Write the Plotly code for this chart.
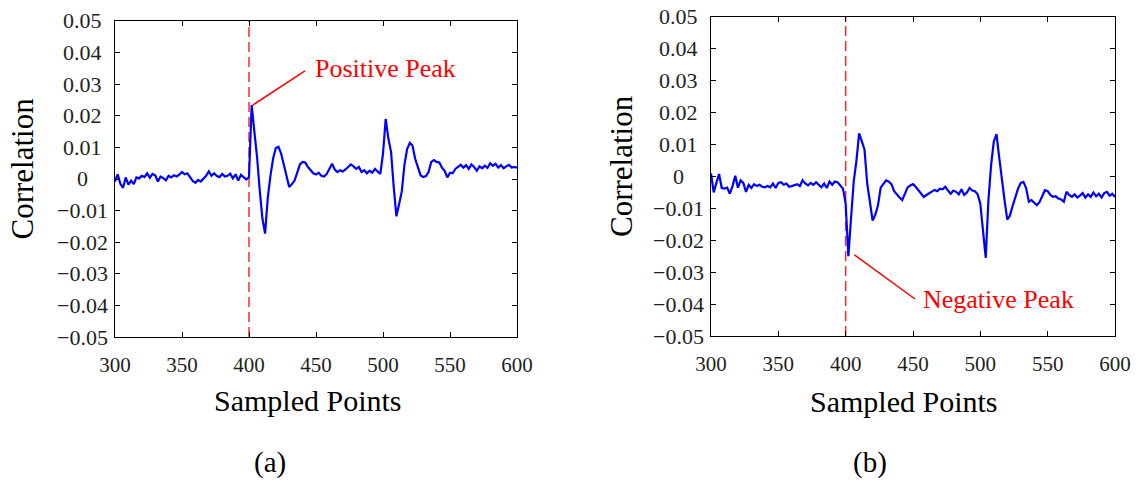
import plotly.graph_objects as go

# Sample positions shared by both correlation traces
sampled_points = list(range(300, 601, 2))

# Correlation of panel (a), in units of 1e-3
corr_a_milli = [
    -0.8, 1.5, -1.5, -2.8, 0.5, -1.8, -0.5, -1.6, 0.5, 0.2,
    1.0, 0.6, 1.8, 0.4, 1.6, 1.2, -0.8, 0.8, 0.3, -0.4,
    1.0, 0.5, 1.2, 0.8, 1.4, 2.2, 1.5, 1.8, 0.6, -0.6,
    -1.2, -0.3, -0.8, 0.2, 1.0, 2.4, 1.0, 1.8, 0.9, 0.6,
    1.6, 0.8, 1.0, 1.7, 0.2, 1.5, -0.5, 1.3, 0.4, -0.2,
    0.6, 23.4, 15.0, 7.0, -3.5, -12.5, -17.3, -6.0, 1.0, 6.5,
    9.8, 10.2, 8.0, 4.2, 0.5, -2.5, -1.6, -0.5, 2.0, 4.6,
    5.4, 5.2, 3.8, 2.6, 1.8, 1.4, 2.0, 1.0, 0.8, 1.6,
    3.2, 4.8, 3.0, 2.2, 2.8, 2.4, 3.0, 3.8, 4.6, 4.0,
    3.2, 3.8, 2.2, 2.8, 1.8, 2.6, 2.0, 3.2, 2.4, 1.6,
    8.0, 19.0, 12.8, 8.6, -2.5, -11.8, -8.0, -4.0, 4.5, 9.5,
    11.4, 10.6, 6.4, 3.4, 1.2, 0.6, 0.9, 2.2, 5.4, 6.0,
    5.4, 5.2, 3.6, 2.6, 0.5, 2.0, 1.8, 3.2, 3.8, 4.5,
    3.6, 4.4, 3.2, 4.6, 3.8, 2.6, 4.0, 3.4, 4.2, 3.5,
    5.0, 4.2, 4.8, 3.6, 4.4, 3.4, 4.0, 4.5, 3.6, 3.8,
    3.6,
]

# Correlation of panel (b), in units of 1e-3
corr_b_milli = [
    1.0, -5.0, -2.0, 0.8, -3.6, -3.8, -3.5, -5.4, -3.0, 0.2,
    -3.5, -1.2, -2.0, -4.8, -2.6, -3.6, -2.4, -3.0, -2.6, -3.2,
    -3.4, -3.0, -3.4, -2.2, -3.6, -2.0, -1.8, -2.6, -2.2, -3.2,
    -3.0, -2.6, -2.4, -3.0, -1.2, -2.2, -2.8, -2.0, -2.6, -1.8,
    -2.6, -3.4, -2.2, -3.6, -1.6, -2.6, -1.6, -1.8, -2.8, -3.8,
    -8.5, -25.0, -13.0, -1.5, 5.0, 13.5, 11.0, 8.4, -2.2, -8.5,
    -13.8, -12.0, -9.0, -3.5, -2.2, -1.2, -1.6, -2.4, -4.6, -5.8,
    -6.6, -7.4, -5.6, -3.4, -2.8, -2.4, -3.2, -4.4, -5.2, -6.4,
    -5.8, -5.2, -4.8, -4.2, -4.6, -3.8, -4.0, -3.2, -4.4, -5.4,
    -4.4, -4.8, -5.6, -4.0, -5.8, -5.0, -3.6, -4.4, -4.6, -5.6,
    -8.5, -16.5, -25.5, -7.5, 3.6, 11.0, 13.3, 6.0, -1.5, -7.5,
    -13.5, -12.2, -9.2, -6.4, -3.8, -2.0, -1.7, -3.6, -7.9, -7.4,
    -8.2, -9.0, -8.0, -6.4, -4.3, -4.6, -5.8, -6.4, -6.2, -6.9,
    -7.2, -7.9, -4.8, -5.8, -6.4, -5.6, -6.6, -6.0, -5.2, -6.6,
    -5.6, -6.4, -5.0, -6.2, -5.4, -6.6, -5.2, -4.8, -6.0, -5.4,
    -6.4,
]

corr_a = [v / 1000 for v in corr_a_milli]
corr_b = [v / 1000 for v in corr_b_milli]

x_ticks = [300, 350, 400, 450, 500, 550, 600]
y_ticks = [-0.05, -0.04, -0.03, -0.02, -0.01, 0, 0.01, 0.02, 0.03, 0.04, 0.05]
y_tick_labels = ["\u22120.05", "\u22120.04", "\u22120.03", "\u22120.02", "\u22120.01", "0",
                 "0.01", "0.02", "0.03", "0.04", "0.05"]
onset = 400

W, H = 1141, 480
SERIF = "Liberation Serif"
TEXT = "#231f20"

# Panel frames in pixels: (left, right, top, bottom)
frames = {
    "a": (115, 517, 21, 337),
    "b": (711, 1115, 17, 336),
}

fig = go.Figure()

panels = [("a", "x", "y", corr_a), ("b", "x2", "y2", corr_b)]
for name, xa, ya, series in panels:
    fig.add_trace(go.Scatter(
        x=sampled_points, y=series, mode="lines",
        line=dict(color="#0000ff", width=2.2),
        xaxis=xa, yaxis=ya, showlegend=False, hoverinfo="skip",
    ))
    # Onset marker
    fig.add_shape(type="line", xref=xa, yref=ya,
                  x0=onset, x1=onset, y0=-0.05, y1=0.05,
                  line=dict(color="#ff2a2a", width=1.5, dash="10px,5px"), layer="below")

axis_common = dict(
    showline=True, linecolor="black", linewidth=1.2, mirror="ticks",
    ticks="inside", ticklen=5, tickwidth=1, tickcolor="black",
    showgrid=False, zeroline=False, automargin=False,
)

for name, xa, ya, _ in panels:
    l, r, t, b = frames[name]
    xkey = "xaxis" if xa == "x" else "xaxis2"
    ykey = "yaxis" if ya == "y" else "yaxis2"
    fig.update_layout(**{
        xkey: dict(axis_common, domain=[l / W, r / W], range=[300, 600],
                   tickvals=x_ticks, anchor=ya,
                   tickfont=dict(family=SERIF, size=21, color=TEXT),
                   ticklabelstandoff=9),
        ykey: dict(axis_common, domain=[1 - b / H, 1 - t / H], range=[-0.05, 0.05],
                   tickvals=y_ticks, showticklabels=False, anchor=xa),
    })

annotations = []
for name, xa, ya, _ in panels:
    l, r, t, b = frames[name]
    # Centred y tick labels
    for v, lab in zip(y_ticks, y_tick_labels):
        annotations.append(dict(
            xref="paper", yref=ya, x=(l - 33) / W, y=v, text=lab, showarrow=False,
            xanchor="center", yanchor="middle",
            font=dict(family=SERIF, size=22, color=TEXT)))

# Axis titles and panel captions
annotations += [
    dict(xref="paper", yref="paper", x=21.5 / W, y=1 - 169 / H, text="Correlation",
         textangle=-90, showarrow=False, xanchor="center", yanchor="middle",
         font=dict(family=SERIF, size=31, color="black")),
    dict(xref="paper", yref="paper", x=621 / W, y=1 - 166 / H, text="Correlation",
         textangle=-90, showarrow=False, xanchor="center", yanchor="middle",
         font=dict(family=SERIF, size=31, color="black")),
    dict(xref="paper", yref="paper", x=307.6 / W, y=1 - 400 / H, text="Sampled Points",
         showarrow=False, xanchor="center", yanchor="middle",
         font=dict(family=SERIF, size=30, color="black")),
    dict(xref="paper", yref="paper", x=904 / W, y=1 - 401 / H, text="Sampled Points",
         showarrow=False, xanchor="center", yanchor="middle",
         font=dict(family=SERIF, size=30, color="black")),
    dict(xref="paper", yref="paper", x=270 / W, y=1 - 462 / H, text="(a)",
         showarrow=False, xanchor="center", yanchor="middle",
         font=dict(family=SERIF, size=29, color="black")),
    dict(xref="paper", yref="paper", x=870 / W, y=1 - 462 / H, text="(b)",
         showarrow=False, xanchor="center", yanchor="middle",
         font=dict(family=SERIF, size=29, color="black")),
]

# Peak call-outs: leader line from the extreme sample right after the onset to the label
window = [i for i, s in enumerate(sampled_points) if onset <= s < onset + 40]
i_pos = max(window, key=lambda i: corr_a[i])
i_neg = min(window, key=lambda i: corr_b[i])
callouts = [
    ("x", "y", sampled_points[i_pos] + 0.8, corr_a[i_pos], 441.8, 0.0342,
     447.8, 0.0351, "Positive Peak"),
    ("x2", "y2", sampled_points[i_neg] + 4.5, corr_b[i_neg] + 0.0004, 451.5, -0.0384,
     455.9, -0.0384, "Negative Peak"),
]
for xa, ya, x0, y0, x1, y1, tx, ty, label in callouts:
    fig.add_shape(type="line", xref=xa, yref=ya, x0=x0, y0=y0, x1=x1, y1=y1,
                  line=dict(color="#ff0000", width=1.5))
    annotations.append(dict(
        xref=xa, yref=ya, x=tx, y=ty, text=label, showarrow=False,
        xanchor="left", yanchor="middle",
        font=dict(family=SERIF, size=26, color="#ff0000")))

fig.update_layout(
    width=W, height=H, margin=dict(l=0, r=0, t=0, b=0, autoexpand=False),
    paper_bgcolor="white", plot_bgcolor="white",
    annotations=annotations, showlegend=False,
)

fig.write_html("out.html")
